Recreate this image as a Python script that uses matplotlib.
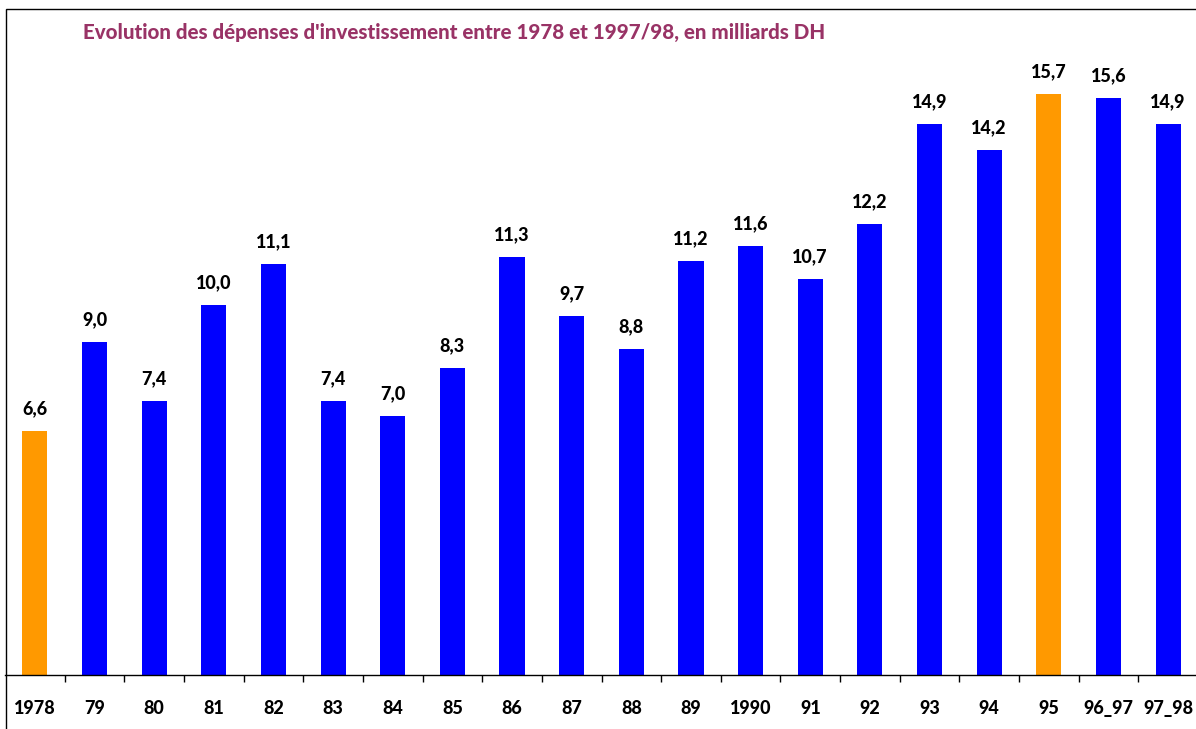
import matplotlib.pyplot as plt
from matplotlib.patches import Rectangle

plt.rcParams["font.family"] = ["Lato", "DejaVu Sans"]

categories = ["1978", "79", "80", "81", "82", "83", "84", "85", "86", "87",
              "88", "89", "1990", "91", "92", "93", "94", "95", "96_97", "97_98"]
values = [6.6, 9.0, 7.4, 10.0, 11.1, 7.4, 7.0, 8.3, 11.3, 9.7,
          8.8, 11.2, 11.6, 10.7, 12.2, 14.9, 14.2, 15.7, 15.6, 14.9]
highlight = ["1978", "95"]

BLUE = "#0000FF"
ORANGE = "#FF9900"
TITLE = "#993366"
WEIGHT = 900

fig = plt.figure(figsize=(11.96, 7.29), dpi=100)
ax = fig.add_axes([5 / 1196, 54 / 729, 1193 / 1196, 666 / 729])

x = list(range(len(categories)))
colors = [ORANGE if c in highlight else BLUE for c in categories]
ax.bar(x, values, width=0.42, color=colors, zorder=2)

for xi, v in zip(x, values):
    ax.annotate(f"{v:.1f}".replace(".", ","), (xi, v), xytext=(0, 16),
                textcoords="offset points", ha="center", va="center",
                fontsize=13, fontweight=WEIGHT, color="black")

ax.set_xlim(-0.5, len(categories) - 0.5)
ax.set_ylim(0, 18)
ax.set_yticks([])

# labels at centres, tick marks between categories
ax.set_xticks(x)
ax.set_xticklabels(categories, fontsize=13, fontweight=WEIGHT)
ax.tick_params(axis="x", which="major", length=0, pad=18)
ax.set_xticks([i + 0.5 for i in x[:-1]], minor=True)
ax.tick_params(axis="x", which="minor", length=5, width=1, color="black", direction="out")

for side in ["top", "right", "left"]:
    ax.spines[side].set_visible(False)
ax.spines["bottom"].set_color("black")
ax.spines["bottom"].set_linewidth(1)

fig.text(83 / 1196, 1 - 32 / 729,
         "Evolution des dépenses d'investissement entre 1978 et 1997/98, en milliards DH",
         fontsize=14.8, fontweight=WEIGHT, color=TITLE, ha="left", va="center")

# outer chart frame (cut at the right and bottom edges)
fig.patches.append(Rectangle((6 / 1196, -0.05), 1.1, (729 - 9) / 729 + 0.05,
                             transform=fig.transFigure, fill=False,
                             edgecolor="black", linewidth=1))

fig.savefig("out.png", dpi=100)
